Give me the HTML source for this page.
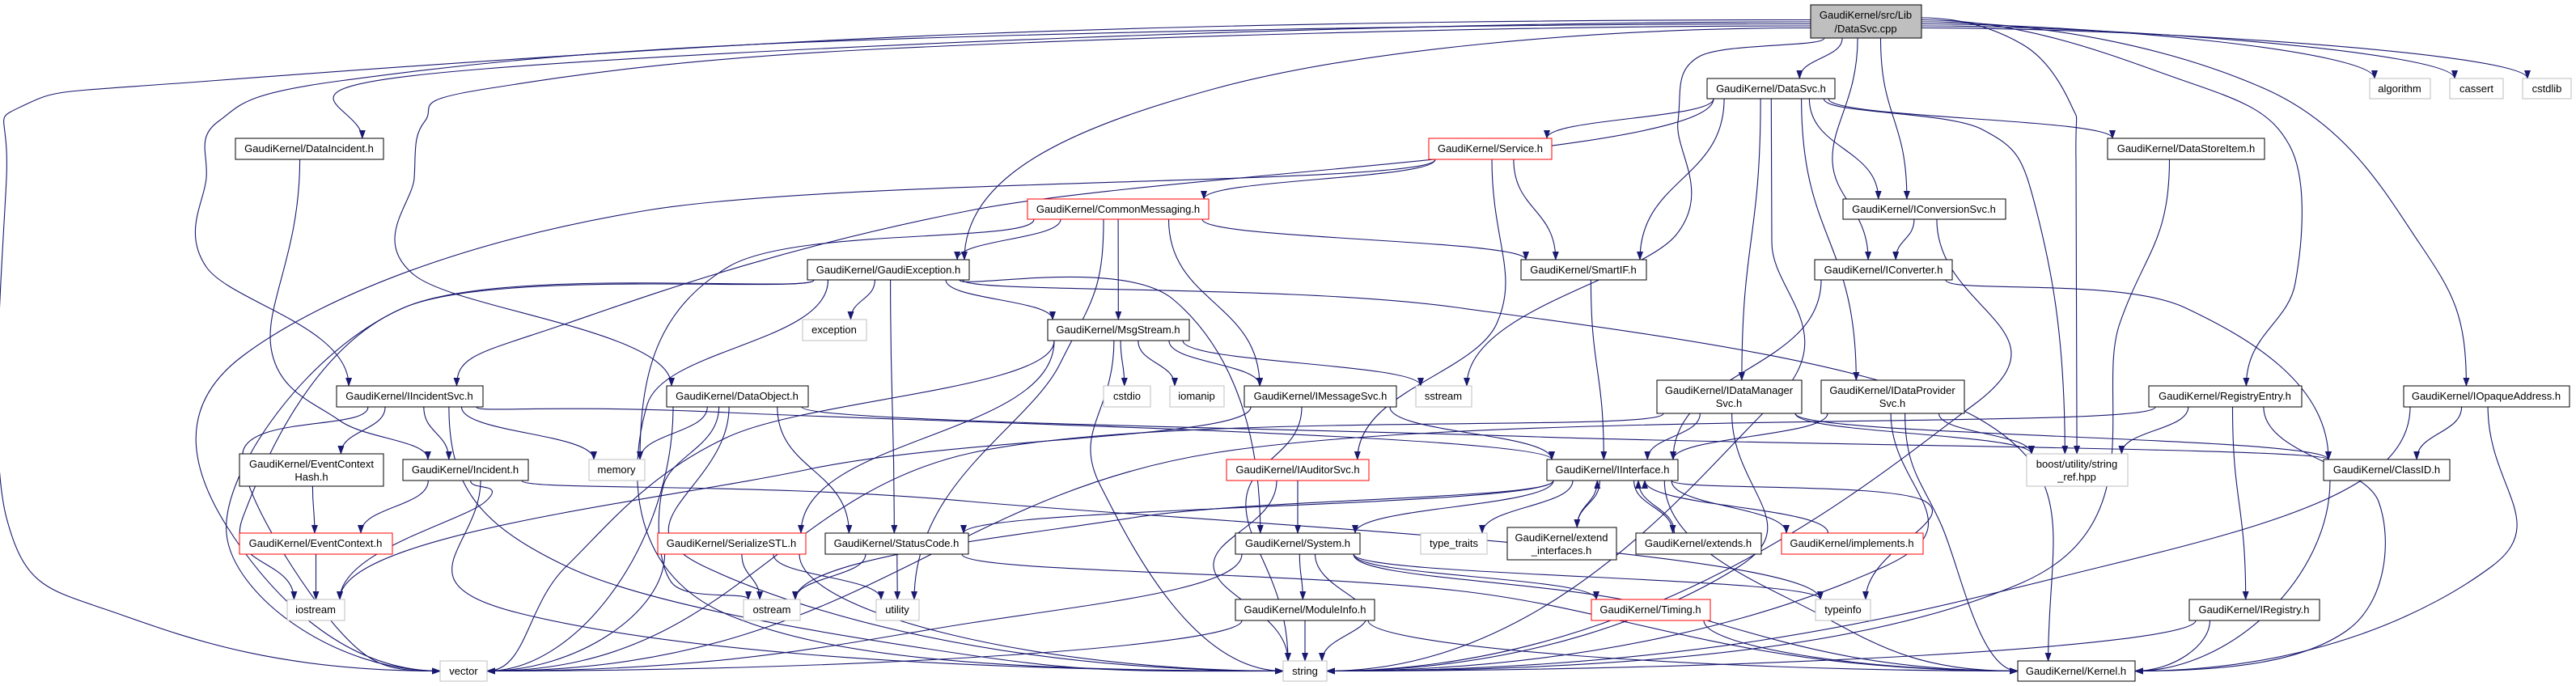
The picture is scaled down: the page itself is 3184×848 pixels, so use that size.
<!DOCTYPE html>
<html><head><meta charset="utf-8">
<style>
html,body{margin:0;padding:0;background:#fff;width:3184px;height:848px;overflow:hidden}
svg{display:block}
text{font-family:"Liberation Sans",Arial,sans-serif;font-size:13px;text-anchor:middle}
</style></head>
<body>
<svg id="g" width="3184" height="848" viewBox="0 0 3184 848" xmlns="http://www.w3.org/2000/svg">
<defs><marker id="a" markerWidth="11" markerHeight="8" refX="10" refY="4" orient="auto" markerUnits="userSpaceOnUse"><path d="M0,0 L11,4 L0,8z" fill="#191970"/></marker></defs>
<g id="edges" fill="none" stroke="#191970" stroke-width="1.1"></g>
<g id="nodes">
<rect x="2238" y="6" width="137" height="41" fill="#bfbfbf" stroke="#000"/><text x="2306" y="23">GaudiKernel/src/Lib</text><text x="2306" y="40">/DataSvc.cpp</text>
<rect x="2110" y="97" width="158" height="25" fill="#fff" stroke="#000"/><text x="2189" y="114">GaudiKernel/DataSvc.h</text>
<rect x="2929" y="97" width="75" height="25" fill="#fff" stroke="#bfbfbf"/><text x="2966" y="114">algorithm</text>
<rect x="3028" y="97" width="66" height="25" fill="#fff" stroke="#bfbfbf"/><text x="3061" y="114">cassert</text>
<rect x="3118" y="97" width="60" height="25" fill="#fff" stroke="#bfbfbf"/><text x="3148" y="114">cstdlib</text>
<rect x="291" y="171" width="183" height="26" fill="#fff" stroke="#000"/><text x="382" y="188">GaudiKernel/DataIncident.h</text>
<rect x="1766" y="171" width="152" height="26" fill="#fff" stroke="#f00"/><text x="1842" y="188">GaudiKernel/Service.h</text>
<rect x="2605" y="171" width="194" height="26" fill="#fff" stroke="#000"/><text x="2702" y="188">GaudiKernel/DataStoreItem.h</text>
<rect x="1270" y="246" width="224" height="25" fill="#fff" stroke="#f00"/><text x="1382" y="263">GaudiKernel/CommonMessaging.h</text>
<rect x="2278" y="246" width="201" height="25" fill="#fff" stroke="#000"/><text x="2378" y="263">GaudiKernel/IConversionSvc.h</text>
<rect x="998" y="321" width="200" height="25" fill="#fff" stroke="#000"/><text x="1098" y="338">GaudiKernel/GaudiException.h</text>
<rect x="1880" y="321" width="155" height="25" fill="#fff" stroke="#000"/><text x="1957" y="338">GaudiKernel/SmartIF.h</text>
<rect x="2243" y="321" width="170" height="25" fill="#fff" stroke="#000"/><text x="2328" y="338">GaudiKernel/IConverter.h</text>
<rect x="992" y="395" width="79" height="26" fill="#fff" stroke="#bfbfbf"/><text x="1031" y="412">exception</text>
<rect x="1295" y="395" width="175" height="26" fill="#fff" stroke="#000"/><text x="1382" y="412">GaudiKernel/MsgStream.h</text>
<rect x="416" y="477" width="181" height="26" fill="#fff" stroke="#000"/><text x="506" y="494">GaudiKernel/IIncidentSvc.h</text>
<rect x="824" y="477" width="175" height="26" fill="#fff" stroke="#000"/><text x="911" y="494">GaudiKernel/DataObject.h</text>
<rect x="1364" y="477" width="58" height="26" fill="#fff" stroke="#bfbfbf"/><text x="1393" y="494">cstdio</text>
<rect x="1446" y="477" width="67" height="26" fill="#fff" stroke="#bfbfbf"/><text x="1479" y="494">iomanip</text>
<rect x="1538" y="477" width="188" height="26" fill="#fff" stroke="#000"/><text x="1632" y="494">GaudiKernel/IMessageSvc.h</text>
<rect x="1750" y="477" width="69" height="26" fill="#fff" stroke="#bfbfbf"/><text x="1784" y="494">sstream</text>
<rect x="2048" y="470" width="179" height="41" fill="#fff" stroke="#000"/><text x="2137" y="487">GaudiKernel/IDataManager</text><text x="2137" y="503">Svc.h</text>
<rect x="2251" y="470" width="177" height="41" fill="#fff" stroke="#000"/><text x="2339" y="487">GaudiKernel/IDataProvider</text><text x="2339" y="503">Svc.h</text>
<rect x="2656" y="477" width="189" height="26" fill="#fff" stroke="#000"/><text x="2750" y="494">GaudiKernel/RegistryEntry.h</text>
<rect x="2971" y="477" width="205" height="26" fill="#fff" stroke="#000"/><text x="3073" y="494">GaudiKernel/IOpaqueAddress.h</text>
<rect x="296" y="561" width="178" height="40" fill="#fff" stroke="#000"/><text x="385" y="578">GaudiKernel/EventContext</text><text x="385" y="594">Hash.h</text>
<rect x="2505" y="561" width="125" height="40" fill="#fff" stroke="#bfbfbf"/><text x="2567" y="578">boost/utility/string</text><text x="2567" y="594">_ref.hpp</text>
<rect x="498" y="568" width="155" height="26" fill="#fff" stroke="#000"/><text x="575" y="585">GaudiKernel/Incident.h</text>
<rect x="728" y="568" width="69" height="26" fill="#fff" stroke="#bfbfbf"/><text x="762" y="585">memory</text>
<rect x="1516" y="568" width="176" height="26" fill="#fff" stroke="#f00"/><text x="1604" y="585">GaudiKernel/IAuditorSvc.h</text>
<rect x="1912" y="568" width="162" height="26" fill="#fff" stroke="#000"/><text x="1993" y="585">GaudiKernel/IInterface.h</text>
<rect x="2872" y="568" width="156" height="26" fill="#fff" stroke="#000"/><text x="2950" y="585">GaudiKernel/ClassID.h</text>
<rect x="813" y="659" width="183" height="26" fill="#fff" stroke="#f00"/><text x="904" y="676">GaudiKernel/SerializeSTL.h</text>
<rect x="1020" y="659" width="177" height="26" fill="#fff" stroke="#000"/><text x="1108" y="676">GaudiKernel/StatusCode.h</text>
<rect x="1527" y="659" width="154" height="26" fill="#fff" stroke="#000"/><text x="1604" y="676">GaudiKernel/System.h</text>
<rect x="1756" y="659" width="82" height="26" fill="#fff" stroke="#bfbfbf"/><text x="1797" y="676">type_traits</text>
<rect x="1863" y="652" width="135" height="40" fill="#fff" stroke="#000"/><text x="1930" y="669">GaudiKernel/extend</text><text x="1930" y="685">_interfaces.h</text>
<rect x="2022" y="659" width="155" height="26" fill="#fff" stroke="#000"/><text x="2099" y="676">GaudiKernel/extends.h</text>
<rect x="2202" y="659" width="175" height="26" fill="#fff" stroke="#f00"/><text x="2289" y="676">GaudiKernel/implements.h</text>
<rect x="296" y="659" width="189" height="26" fill="#fff" stroke="#f00"/><text x="390" y="676">GaudiKernel/EventContext.h</text>
<rect x="355" y="741" width="71" height="26" fill="#fff" stroke="#bfbfbf"/><text x="390" y="758">iostream</text>
<rect x="919" y="741" width="70" height="26" fill="#fff" stroke="#bfbfbf"/><text x="954" y="758">ostream</text>
<rect x="1083" y="741" width="53" height="26" fill="#fff" stroke="#bfbfbf"/><text x="1109" y="758">utility</text>
<rect x="1527" y="741" width="172" height="26" fill="#fff" stroke="#000"/><text x="1613" y="758">GaudiKernel/ModuleInfo.h</text>
<rect x="1967" y="741" width="147" height="26" fill="#fff" stroke="#f00"/><text x="2040" y="758">GaudiKernel/Timing.h</text>
<rect x="2244" y="741" width="68" height="26" fill="#fff" stroke="#bfbfbf"/><text x="2278" y="758">typeinfo</text>
<rect x="2706" y="741" width="161" height="26" fill="#fff" stroke="#000"/><text x="2786" y="758">GaudiKernel/IRegistry.h</text>
<rect x="544" y="817" width="58" height="25" fill="#fff" stroke="#bfbfbf"/><text x="573" y="834">vector</text>
<rect x="1586" y="817" width="54" height="25" fill="#fff" stroke="#bfbfbf"/><text x="1613" y="834">string</text>
<rect x="2494" y="817" width="145" height="25" fill="#fff" stroke="#000"/><text x="2566" y="834">GaudiKernel/Kernel.h</text>
</g>
</svg>
<script>
var N={
root:[2238,6,2375,47],dsh:[2110,97,2268,122],alg:[2929,97,3004,122],cas:[3028,97,3094,122],cst:[3118,97,3178,122],
dinc:[291,171,474,197],svc:[1766,171,1918,197],dsi:[2605,171,2799,197],cm:[1270,246,1494,271],ics:[2278,246,2479,271],
gex:[998,321,1198,346],sif:[1880,321,2035,346],icv:[2243,321,2413,346],exc:[992,395,1071,421],ms:[1295,395,1470,421],
iis:[416,477,597,503],dob:[824,477,999,503],cstdio:[1364,477,1422,503],iom:[1446,477,1513,503],ims:[1538,477,1726,503],
sst:[1750,477,1819,503],idm:[2048,470,2227,511],idp:[2251,470,2428,511],reg:[2656,477,2845,503],ioa:[2971,477,3176,503],
ech:[296,561,474,601],bst:[2505,561,2630,601],inc:[498,568,653,594],mem:[728,568,797,594],ias:[1516,568,1692,594],
ii:[1912,568,2074,594],cid:[2872,568,3028,594],ser:[813,659,996,685],sc:[1020,659,1197,685],sys:[1527,659,1681,685],
tt:[1756,659,1838,685],ext:[1863,652,1998,692],exs:[2022,659,2177,685],imp:[2202,659,2377,685],ec:[296,659,485,685],
ios:[355,741,426,767],ost:[919,741,989,767],utl:[1083,741,1136,767],mi:[1527,741,1699,767],tim:[1967,741,2114,767],
tinfo:[2244,741,2312,767],ireg:[2706,741,2867,767],vec:[544,817,602,842],str:[1586,817,1640,842],ker:[2494,817,2639,842]};
var E=[
['root','vec',[[1200,42],[260,100],[30,130],[8,220],[8,640],[150,760]]],
['root','dinc',[[600,85]]],
['root','iis',[[1000,52],[420,100],[270,150],[255,220],[255,330]]],
['root','dob',[[1100,60],[600,110],[525,150],[512,220],[512,340]]],
['root','gex',[[1500,110]]],
['root','dsh'],['root','sst',[[2100,70],[2074,150],[2072,290]]],
['root','icv',[[2265,200]]],['root','ics'],
['root','bst',[[2500,55],[2560,130],[2566,200]]],
['root','reg',[[2700,100],[2830,180],[2837,350]]],
['root','ioa',[[2800,110],[2990,300]]],
['root','alg'],['root','cas'],['root','cst'],
['dsh','svc'],['dsh','sif'],['dsh','ics'],['dsh','dsi'],['dsh','idm'],['dsh','idp'],
['dsh','bst',[[2450,160],[2517,260]]],['dsh','iis',[[1200,260],[700,400]]],['dsh','str',[[2190,300],[2190,500]]],
['svc','cm'],['svc','sif'],['svc','ias',[[1850,400]]],['svc','vec',[[800,260],[300,440],[280,650]]],
['cm','gex'],['cm','ms'],['cm','ims'],['cm','sif'],['cm','utl',[[1310,450]]],['cm','mem',[[900,330]]],
['gex','exc'],['gex','ms'],['gex','sc'],['gex','sys',[[1450,370]]],['gex','ios',[[500,380],[300,640]]],['gex','vec',[[500,380],[280,660]]],['gex','ker',[[1800,380],[2450,520]]],['gex','str',[[800,500],[900,760]]],
['ms','cstdio'],['ms','iom'],['ms','ims'],['ms','sst'],['ms','str',[[1360,600]]],['ms','ser'],['ms','vec',[[900,540],[700,700]]],
['iis','ech'],['iis','inc'],['iis','mem'],['iis','ii',[[900,510]]],['iis','str',[[700,700],[1200,810]]],['iis','vec',[[300,560],[420,780]]],
['dinc','inc',[[335,430],[420,520]]],
['inc','ec'],['inc','str',[[650,760]]],['inc','ios',[[600,620]]],['inc','tinfo',[[1200,620]]],
['ech','ec'],['ec','ios'],
['dob','mem'],['dob','sc'],['dob','cid',[[1900,540]]],['dob','str',[[870,700]]],['dob','vec'],['dob','ost',[[820,600],[830,720]]],
['ser','ost'],['ser','utl'],['ser','vec'],['ser','str'],
['sc','ost'],['sc','utl'],['sc','ker',[[1800,730]]],
['ims','ii'],['ims','str',[[1540,620]]],['ims','ios',[[1000,580]]],
['ias','sys'],['ias','str',[[1500,700]]],
['sys','mi'],['sys','str',[[1690,760]]],['sys','vec',[[1200,770]]],['sys','tim'],['sys','tinfo'],['sys','ker',[[2000,740]]],
['mi','str'],['mi','vec'],['mi','ker'],
['ii','tt'],['ii','ext'],['ii','exs'],['ii','imp'],['ii','sys'],['ii','sc'],['ii','ost',[[1400,640]]],['ii','tinfo',[[2380,620]]],['ii','ker',[[2250,760]]],
['ext','ii'],['exs','ii'],['imp','ii'],
['tim','ker'],['sif','ii'],
['ics','icv'],['ics','str',[[2440,500]]],
['icv','ii'],['icv','cid',[[2700,380]]],
['idm','ii'],['idm','bst'],['idm','cid'],['idm','str',[[2150,700]]],['idm','vec',[[1200,560]]],
['idp','ii'],['idp','bst'],['idp','str',[[2330,700]]],['idp','ker',[[2400,650]]],
['reg','bst'],['reg','ireg'],['reg','ker',[[2940,620],[2900,780]]],['reg','vec',[[1500,560]]],
['ireg','str'],['ireg','ker'],
['ioa','cid'],['ioa','ker',[[3080,700]]],['ioa','str',[[2600,700]]],
['cid','ker'],['dsi','str',[[2620,400],[2500,720]]]
];
var sinks={vec:1,str:1,ker:1};
function cx(n){return (n[0]+n[2])/2}
function cl(v,a,b){return Math.max(a,Math.min(b,v))}
var d='';
var rootSide={vec:1,dinc:1,iis:1,dob:1,gex:1,sst:0,bst:1,reg:1,ioa:1,alg:1,cas:1,cst:1};
var rc=0;
E.forEach(function(e){
 var s=N[e[0]],t=N[e[1]],v=e[2]||[];
 var first=v.length?v[0]:[cx(t),t[1]];
 var last=v.length?v[v.length-1]:[cx(s),s[3]];
 var S,T,sd,td;
 if(t[3]<=s[1]){
  S=[cx(s)+cl((cx(t)-cx(s))*0.3,-30,30),s[1]];sd=[0,-1];
  T=[cx(t)+cl((cx(s)-cx(t))*0.3,-40,40),t[3]];td=[0,-1];
 } else {
  var w=(s[2]-s[0])/2-8;
  if(e[0]=='root' && rootSide[e[1]]){
   rc++;
   if(first[0]<s[0]){S=[s[0],22+ (rc%6)*2.5];sd=[-1,0];} else {S=[s[2],22+(rc%6)*2.5];sd=[1,0];}
  } else {S=[cx(s)+cl((first[0]-cx(s))*0.25,-w,w),s[3]];sd=[0,1];}
  var tw=(t[2]-t[0])/2-6;
  if(sinks[e[1]] && Math.abs(last[0]-cx(t))>120){
   if(last[0]<cx(t)){T=[t[0],(t[1]+t[3])/2];td=[1,0];} else {T=[t[2],(t[1]+t[3])/2];td=[-1,0];}
  } else {T=[cx(t)+cl((last[0]-cx(t))*0.3,-tw,tw),t[1]];td=[0,1];}
 }
 var P=[S].concat(v).concat([T]);
 var L1=Math.hypot(P[1][0]-S[0],P[1][1]-S[1]);
 var L2=Math.hypot(T[0]-P[P.length-2][0],T[1]-P[P.length-2][1]);
 var k1=Math.min(40,L1*0.4),k2=Math.min(40,L2*0.4);
 var pre=[S[0]-sd[0]*k1*2,S[1]-sd[1]*k1*2],post=[T[0]+td[0]*k2*2,T[1]+td[1]*k2*2];
 var Q=[pre].concat(P).concat([post]);
 var p='M'+S[0].toFixed(1)+','+S[1].toFixed(1);
 for(var i=1;i<Q.length-2;i++){
  var p0=Q[i-1],p1=Q[i],p2=Q[i+1],p3=Q[i+2];
  var c1=[p1[0]+(p2[0]-p0[0])/6,p1[1]+(p2[1]-p0[1])/6];
  var c2=[p2[0]-(p3[0]-p1[0])/6,p2[1]-(p3[1]-p1[1])/6];
  if(i==1){c1=[p1[0]+sd[0]*Math.max(8,(Math.abs(p2[0]-p1[0])+Math.abs(p2[1]-p1[1]))/3)*(sd[0]?1:0),p1[1]+sd[1]*Math.max(8,Math.abs(p2[1]-p1[1])/2)];}
  if(i==Q.length-3){c2=[p2[0]-td[0]*Math.max(8,Math.abs(p2[0]-p1[0])/2),p2[1]-td[1]*Math.max(8,Math.abs(p2[1]-p1[1])/2)];}
  p+=' C'+c1[0].toFixed(1)+','+c1[1].toFixed(1)+' '+c2[0].toFixed(1)+','+c2[1].toFixed(1)+' '+p2[0].toFixed(1)+','+p2[1].toFixed(1);
 }
 d+='<path d="'+p+'" marker-end="url(#a)"/>';
});
document.getElementById('edges').innerHTML=d;
</script>
</body></html>
